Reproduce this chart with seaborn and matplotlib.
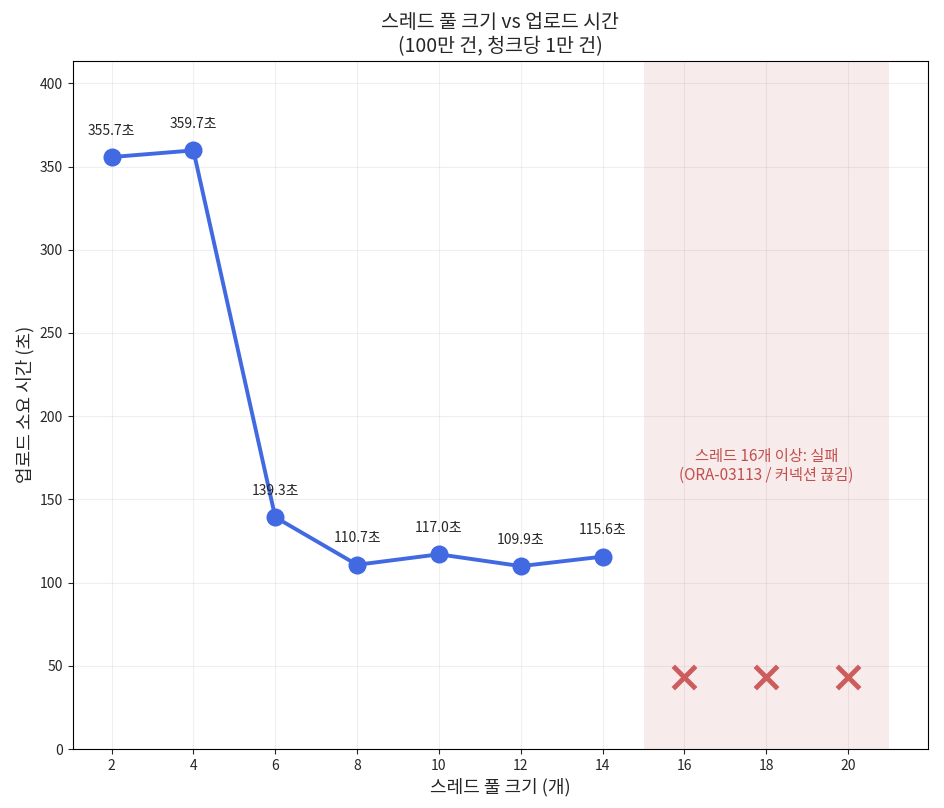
import matplotlib
matplotlib.use("Agg")
import matplotlib.pyplot as plt
import seaborn as sns
import pandas as pd

# data
threads_ok = [2, 4, 6, 8, 10, 12, 14]
upload_sec = [355.7, 359.7, 139.3, 110.7, 117.0, 109.9, 115.6]
threads_fail = [16, 18, 20]
fail_marker_y = 43

df_ok = pd.DataFrame({"threads": threads_ok, "sec": upload_sec})
df_fail = pd.DataFrame({"threads": threads_fail, "y": [fail_marker_y] * len(threads_fail)})

sns.set_style("ticks")
plt.rcParams['font.family'] = ['Noto Sans CJK KR', 'DejaVu Sans']

fig, ax = plt.subplots(figsize=(9.44, 8.08), dpi=100)

ax.axvspan(15, 21, color="indianred", alpha=0.12, lw=0)

sns.lineplot(data=df_ok, x="threads", y="sec", ax=ax, color="royalblue",
             linewidth=2.8, marker="o", markersize=13, markeredgewidth=0)
sns.scatterplot(data=df_fail, x="threads", y="y", ax=ax, color="indianred",
                marker="x", s=260, linewidth=3.5)

for t, s in zip(threads_ok, upload_sec):
    ax.annotate(f"{s:.1f}초", (t, s), xytext=(0, 14), textcoords="offset points",
                ha="center", va="bottom", fontsize=10)

ax.text(18, 170, "스레드 16개 이상: 실패\n(ORA-03113 / 커넥션 끊김)", ha="center", va="center",
        color="#c0504d", fontsize=11, linespacing=1.1)

ax.set_xticks(range(2, 21, 2))
ax.set_ylim(0, max(upload_sec) * 1.15)
ax.grid(True, alpha=0.3)
for sp in ax.spines.values():
    sp.set_visible(True)
    sp.set_color("black")
ax.set_xlabel("스레드 풀 크기 (개)", fontsize=13)
ax.set_ylabel("업로드 소요 시간 (초)", fontsize=13)
ax.set_title("스레드 풀 크기 vs 업로드 시간\n(100만 건, 청크당 1만 건)", fontsize=14, linespacing=1.2)
ax.tick_params(labelsize=10)

fig.subplots_adjust(left=0.077, right=0.983, top=0.925, bottom=0.073)
fig.savefig("out.png", dpi=100)
